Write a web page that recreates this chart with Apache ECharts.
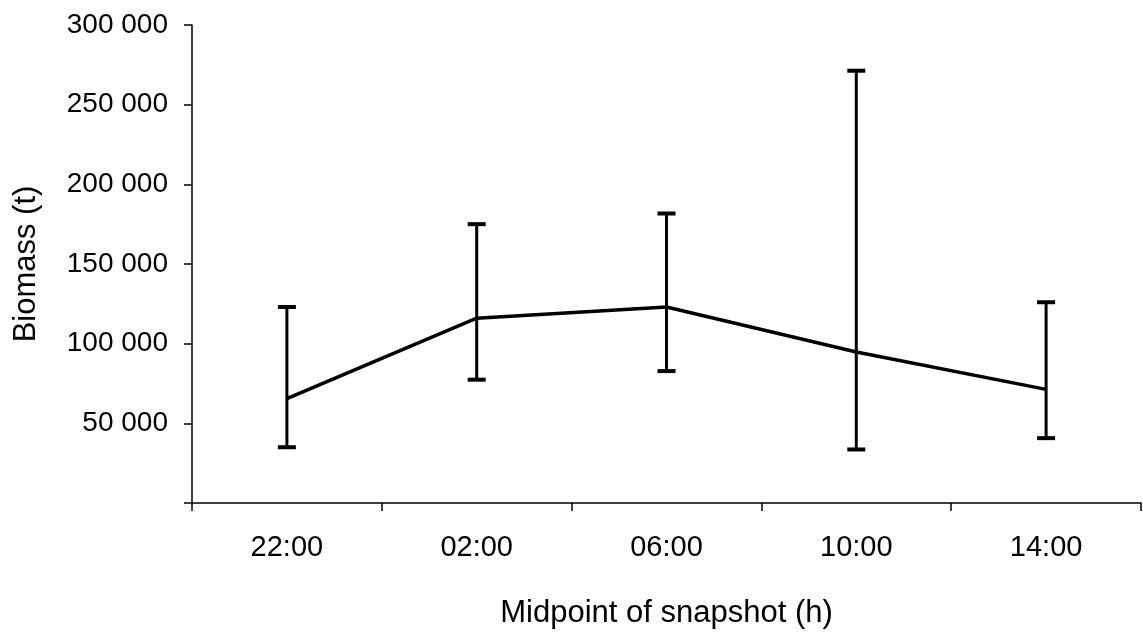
<!DOCTYPE html>
<html>
<head>
<meta charset="utf-8">
<script src="https://cdn.jsdelivr.net/npm/echarts@6/dist/echarts.min.js"></script>
<style>
  html, body { margin: 0; padding: 0; background: #fff; }
  #chart { width: 1143px; height: 634px; }
</style>
</head>
<body>
<div id="chart"></div>
<script>
// 数值从原图读出（单位 t）
const categories = ["22:00", "02:00", "06:00", "10:00", "14:00"];
const biomass = [65500, 116000, 123000, 94800, 71300];
const errLow = [35000, 77400, 82800, 33600, 40700];
const errHigh = [123000, 175000, 181700, 271300, 126000];
const yTicks = { min: 0, max: 300000, interval: 50000 };

const font = "'Liberation Sans', Arial, sans-serif";

// 千位用空格分隔，0 不显示
function fmt(v) {
  if (v === 0) return "";
  return String(v).replace(/\B(?=(\d{3})+(?!\d))/g, " ");
}

const errData = categories.map((c, i) => [i, errLow[i], errHigh[i]]);

function renderErr(params, api) {
  const x = api.value(0);
  const lo = api.coord([x, api.value(1)]);
  const hi = api.coord([x, api.value(2)]);
  const half = 9;
  const st = { stroke: "#000", lineWidth: 3 };
  const cap = { stroke: "#000", lineWidth: 4 };
  return {
    type: "group",
    children: [
      { type: "line", shape: { x1: lo[0], y1: lo[1], x2: hi[0], y2: hi[1] }, style: st },
      { type: "line", shape: { x1: lo[0] - half, y1: lo[1], x2: lo[0] + half, y2: lo[1] }, style: cap },
      { type: "line", shape: { x1: hi[0] - half, y1: hi[1], x2: hi[0] + half, y2: hi[1] }, style: cap }
    ]
  };
}

const chart = echarts.init(document.getElementById("chart"), null, { renderer: "canvas" });
chart.setOption({
  backgroundColor: "#fff",
  animation: false,
  grid: { left: 192, right: 2, top: 25, bottom: 131 },
  xAxis: {
    type: "category",
    data: categories,
    boundaryGap: true,
    name: "Midpoint of snapshot (h)",
    nameLocation: "middle",
    nameGap: 95,
    nameTextStyle: { fontFamily: font, fontSize: 31, color: "#000" },
    axisLine: { lineStyle: { color: "#000", width: 1.5 } },
    axisTick: { show: true, length: 8, lineStyle: { color: "#000", width: 1.5 } },
    axisLabel: { fontFamily: font, fontSize: 29, color: "#000", margin: 30 },
    splitLine: { show: false }
  },
  yAxis: {
    type: "value",
    min: yTicks.min,
    max: yTicks.max,
    interval: yTicks.interval,
    name: "Biomass (t)",
    nameLocation: "middle",
    nameRotate: 90,
    nameGap: 150,
    nameTextStyle: { fontFamily: font, fontSize: 31, color: "#000" },
    axisLine: { show: true, lineStyle: { color: "#000", width: 1.5 } },
    axisTick: { show: true, length: 8, lineStyle: { color: "#000", width: 1.5 } },
    axisLabel: { fontFamily: font, fontSize: 28, color: "#000", margin: 24, formatter: fmt },
    splitLine: { show: false }
  },
  series: [
    {
      type: "line",
      data: biomass,
      symbol: "none",
      lineStyle: { color: "#000", width: 3.5 },
      z: 3
    },
    {
      type: "custom",
      data: errData,
      renderItem: renderErr,
      encode: { x: 0, y: [1, 2] },
      z: 4
    }
  ]
});
</script>
</body>
</html>
